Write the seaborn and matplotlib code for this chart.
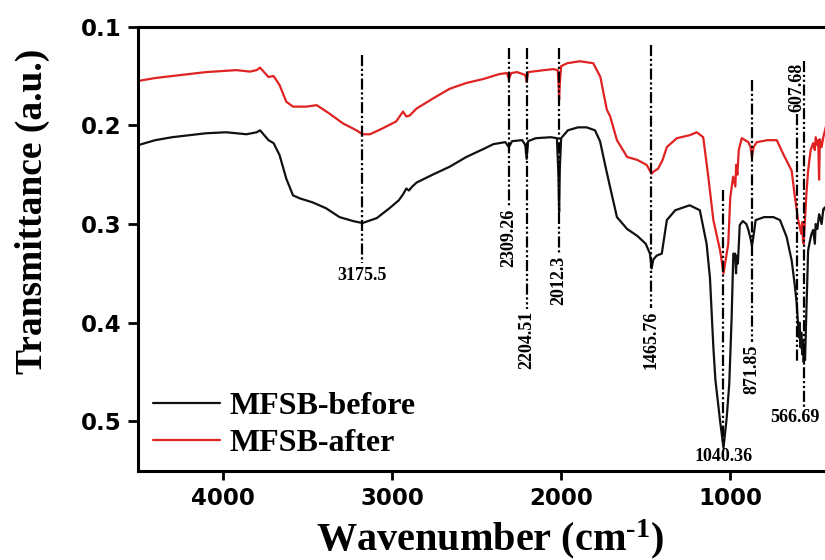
import matplotlib
matplotlib.use("Agg")
import matplotlib.pyplot as plt
import matplotlib.transforms as mtransforms
import pandas as pd
import seaborn as sns

# FTIR spectra of the sorbent before and after use (wavenumber in cm^-1, transmittance in a.u.)
before_wn = [4500, 4400, 4300, 4100, 3980, 3860, 3800, 3780, 3730, 3700, 3665, 3625, 3585,
             3545, 3470, 3390, 3310, 3230, 3175, 3090, 3015, 2960, 2935, 2915, 2900, 2880,
             2855, 2760, 2660, 2560, 2460, 2400, 2330, 2309, 2290, 2230, 2212, 2204, 2195,
             2150, 2060, 2025, 2016, 2012, 2008, 2000, 1960, 1900, 1850, 1800, 1770, 1740,
             1710, 1670, 1610, 1550, 1500, 1475, 1465, 1455, 1435, 1405, 1375, 1325, 1240,
             1180, 1140, 1120, 1100, 1088, 1080, 1060, 1040, 1021, 1006, 992, 982, 972, 966,
             962, 955, 944, 926, 905, 893, 880, 872, 865, 850, 800, 745, 706, 667, 637, 620,
             607, 600, 595, 590, 585, 580, 575, 570, 566, 562, 558, 552, 546, 540, 530, 520,
             510, 500, 495, 485, 475, 469, 460, 450, 440, 430, 420, 410, 400]
before_t = [0.220, 0.215, 0.212, 0.208, 0.207, 0.209, 0.207, 0.205, 0.215, 0.218, 0.230, 0.254,
            0.271, 0.274, 0.278, 0.284, 0.293, 0.297, 0.299, 0.294, 0.284, 0.276, 0.270, 0.264,
            0.266, 0.262, 0.258, 0.250, 0.242, 0.232, 0.224, 0.219, 0.217, 0.222, 0.216, 0.215,
            0.220, 0.234, 0.216, 0.213, 0.212, 0.213, 0.250, 0.288, 0.245, 0.213, 0.205, 0.202,
            0.202, 0.205, 0.216, 0.240, 0.263, 0.293, 0.305, 0.312, 0.320, 0.330, 0.345, 0.336,
            0.332, 0.330, 0.296, 0.286, 0.281, 0.286, 0.320, 0.355, 0.425, 0.458, 0.470, 0.500,
            0.527, 0.496, 0.462, 0.395, 0.330, 0.330, 0.350, 0.332, 0.340, 0.301, 0.297, 0.300,
            0.306, 0.315, 0.322, 0.315, 0.296, 0.293, 0.293, 0.296, 0.313, 0.337, 0.360, 0.381,
            0.400, 0.415, 0.400, 0.425, 0.410, 0.432, 0.418, 0.440, 0.425, 0.438, 0.400, 0.365,
            0.327, 0.318, 0.310, 0.306, 0.320, 0.300, 0.305, 0.290, 0.293, 0.300, 0.285, 0.283,
            0.290, 0.280, 0.288, 0.282]

after_wn = [4500, 4400, 4300, 4100, 3920, 3840, 3800, 3780, 3730, 3700, 3665, 3625, 3585,
            3505, 3445, 3370, 3290, 3210, 3175, 3130, 3055, 2975, 2935, 2915, 2895, 2855,
            2760, 2660, 2560, 2460, 2365, 2320, 2309, 2295, 2260, 2212, 2204, 2195, 2100,
            2046, 2020, 2015, 2012, 2008, 2000, 1964, 1890, 1810, 1768, 1730, 1710, 1670,
            1610, 1550, 1495, 1465, 1455, 1427, 1400, 1375, 1316, 1240, 1198, 1160, 1130,
            1100, 1060, 1040, 1012, 1000, 983, 970, 965, 958, 950, 932, 893, 880, 872, 862,
            843, 780, 725, 687, 637, 620, 607, 600, 589, 580, 575, 570, 566, 560, 550, 540,
            525, 510, 500, 495, 485, 480, 475, 470, 460, 450, 440, 430, 420, 410, 400]
after_t = [0.155, 0.152, 0.150, 0.146, 0.144, 0.1455, 0.144, 0.1415, 0.151, 0.150, 0.159,
           0.176, 0.181, 0.181, 0.1795, 0.188, 0.198, 0.205, 0.209, 0.209, 0.203, 0.196,
           0.186, 0.191, 0.190, 0.183, 0.173, 0.163, 0.157, 0.153, 0.148, 0.147, 0.153, 0.147,
           0.146, 0.149, 0.156, 0.146, 0.144, 0.143, 0.144, 0.160, 0.174, 0.158, 0.140, 0.137,
           0.135, 0.137, 0.151, 0.184, 0.191, 0.215, 0.232, 0.235, 0.240, 0.249, 0.247, 0.244,
           0.235, 0.222, 0.213, 0.210, 0.207, 0.212, 0.252, 0.296, 0.327, 0.350, 0.320, 0.273,
           0.252, 0.262, 0.240, 0.250, 0.225, 0.213, 0.217, 0.222, 0.232, 0.222, 0.217, 0.215,
           0.215, 0.229, 0.246, 0.270, 0.286, 0.295, 0.303, 0.310, 0.298, 0.318, 0.320, 0.300,
           0.270, 0.246, 0.225, 0.218, 0.225, 0.212, 0.220, 0.215, 0.255, 0.214, 0.222, 0.212,
           0.205, 0.198, 0.205, 0.196, 0.200]

series_names = ["MFSB-before", "MFSB-after"]
series_colors = ["#111111", "#e02222"]

peak_wn = [3175.5, 2309.26, 2204.51, 2012.3, 1465.76, 1040.36, 871.85, 607.68, 566.69]
peak_labels = ["3175.5", "2309.26", "2204.51", "2012.3", "1465.76", "1040.36", "871.85",
               "607.68", "566.69"]

x_ticks = [4000, 3000, 2000, 1000]
y_ticks = [0.1, 0.2, 0.3, 0.4, 0.5]

sns.set_theme(style="ticks")
plt.rcParams.update({
    "font.family": ["DejaVu Sans"],
    "text.color": "black",
    "axes.labelcolor": "black",
    "axes.linewidth": 2.2,
    "xtick.major.width": 2.0,
    "ytick.major.width": 2.0,
    "xtick.major.size": 6.5,
    "ytick.major.size": 7.0,
    "xtick.color": "black",
    "ytick.color": "black",
    "axes.edgecolor": "black",
    "mathtext.fontset": "custom",
    "mathtext.rm": "Liberation Serif:bold",
    "mathtext.bf": "Liberation Serif:bold",
    "mathtext.default": "bf",
})

spectra = pd.concat([
    pd.DataFrame({"wavenumber": before_wn, "transmittance": before_t, "sample": series_names[0]}),
    pd.DataFrame({"wavenumber": after_wn, "transmittance": after_t, "sample": series_names[1]}),
], ignore_index=True)

fig = plt.figure(figsize=(8.25, 5.6), dpi=100)
ax = fig.add_axes([0.1676, 0.1595, 0.8406, 0.7928])

sns.lineplot(data=spectra, x="wavenumber", y="transmittance", hue="sample",
             hue_order=series_names, palette=series_colors, sort=False, estimator=None,
             linewidth=1.6, ax=ax)

ax.set_xlim(4500, 400)
ax.set_ylim(0.55, 0.1)
ax.set_xticks(x_ticks)
ax.set_yticks(y_ticks)
ax.set_xticklabels([str(v) for v in x_ticks])
ax.set_yticklabels([f"{v:.1f}" for v in y_ticks])
ax.tick_params(axis="both", which="major", direction="out", labelsize=16.5, pad=5)
for lab in ax.get_xticklabels() + ax.get_yticklabels():
    lab.set_fontweight("bold")
for side in ["top", "right", "left", "bottom"]:
    ax.spines[side].set_visible(True)

serif = ["Liberation Serif", "DejaVu Serif"]
ax.set_xlabel(r"Wavenumber (cm$^{\text{-}1}$)", fontsize=29, fontweight="bold", family=serif)
ax.set_ylabel("Transmittance (a.u.)", fontsize=27, fontweight="bold", family=serif)
ax.xaxis.set_label_coords(0.507, -0.155)
ax.yaxis.set_label_coords(-0.152, 0.585)
ax.xaxis.label.set_va("center")
ax.yaxis.label.set_va("center")

# Peak markers: (line top, line bottom, label anchor, label style, label x shift in points)
peak_layout = [
    (0.129, 0.339, 0.352, "below", 0),
    (0.122, 0.283, 0.285, "vert_below", 0),
    (0.122, 0.386, 0.388, "vert_below", 0),
    (0.122, 0.330, 0.332, "vert_below", 0),
    (0.119, 0.385, 0.388, "vert_below", 0),
    (0.266, 0.522, 0.536, "below", 0),
    (0.154, 0.420, 0.422, "vert_below", 0),
    (0.188, 0.440, 0.186, "vert_above", 0),
    (0.135, 0.485, 0.496, "below", -6),
]
dash_style = (0, (5, 1.2, 1, 1.2, 1, 1.2))
for wn, text, (top, bottom, lab_y, mode, shift) in zip(peak_wn, peak_labels, peak_layout):
    ax.plot([wn, wn], [top, bottom], color="black", linewidth=1.6, linestyle=dash_style,
            zorder=3)
    font = dict(fontsize=13, fontweight="bold", family=serif, color="black")
    tr = ax.transData + mtransforms.ScaledTranslation(shift / 72, 0, fig.dpi_scale_trans)
    if mode == "below":
        ax.text(wn, lab_y, text, ha="center", va="center", transform=tr, **font)
    elif mode == "vert_below":
        ax.text(wn, lab_y, text, ha="center", va="top", rotation=90, transform=tr, **font)
    else:
        ax.text(wn, lab_y, text, ha="center", va="bottom", rotation=90, transform=tr, **font)

handles, labels = ax.get_legend_handles_labels()
ax.legend(handles[:2], labels[:2], loc="lower left", bbox_to_anchor=(0.021, 0.029),
          frameon=False, borderpad=0, borderaxespad=0, handlelength=2.1,
          handletextpad=0.3, labelspacing=0.22,
          prop={"family": serif, "weight": "bold", "size": 23})

fig.savefig("out.png", dpi=100)
